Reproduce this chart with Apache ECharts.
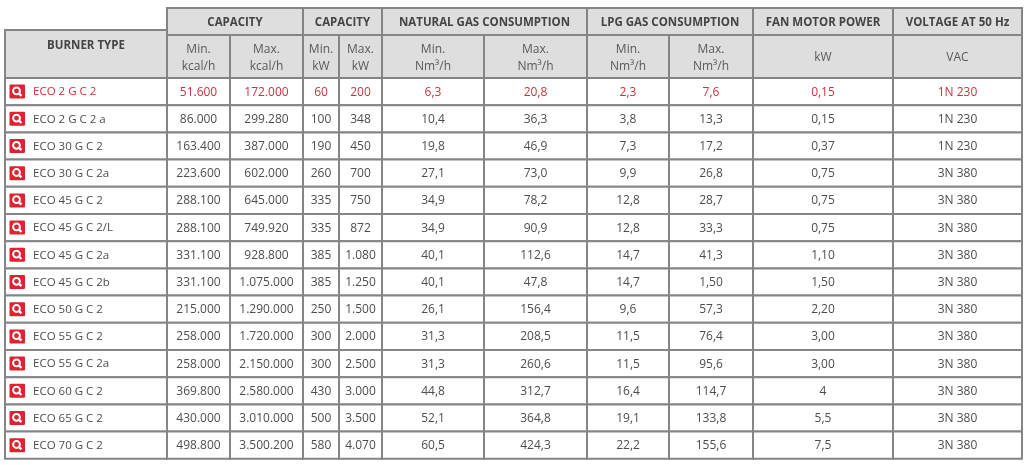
<!DOCTYPE html>
<html>
<head>
<meta charset="utf-8">
<script src="https://cdn.jsdelivr.net/npm/echarts@6/dist/echarts.min.js"></script>
<style>
    html, body { margin: 0; padding: 0; background: #fff; }
    #chart { width: 1024px; height: 465px; }
</style>
</head>
<body>
<div id="chart"></div>
<script>
// table content
const burnerTypes = ['ECO 2 G C 2', 'ECO 2 G C 2 a', 'ECO 30 G C 2', 'ECO 30 G C 2a', 'ECO 45 G C 2',
    'ECO 45 G C 2/L', 'ECO 45 G C 2a', 'ECO 45 G C 2b', 'ECO 50 G C 2', 'ECO 55 G C 2',
    'ECO 55 G C 2a', 'ECO 60 G C 2', 'ECO 65 G C 2', 'ECO 70 G C 2'];
const capMinKcal = ['51.600', '86.000', '163.400', '223.600', '288.100', '288.100', '331.100',
    '331.100', '215.000', '258.000', '258.000', '369.800', '430.000', '498.800'];
const capMaxKcal = ['172.000', '299.280', '387.000', '602.000', '645.000', '749.920', '928.800',
    '1.075.000', '1.290.000', '1.720.000', '2.150.000', '2.580.000', '3.010.000', '3.500.200'];
const capMinKw = ['60', '100', '190', '260', '335', '335', '385', '385', '250', '300', '300', '430', '500', '580'];
const capMaxKw = ['200', '348', '450', '700', '750', '872', '1.080', '1.250', '1.500', '2.000',
    '2.500', '3.000', '3.500', '4.070'];
const natGasMin = ['6,3', '10,4', '19,8', '27,1', '34,9', '34,9', '40,1', '40,1', '26,1', '31,3',
    '31,3', '44,8', '52,1', '60,5'];
const natGasMax = ['20,8', '36,3', '46,9', '73,0', '78,2', '90,9', '112,6', '47,8', '156,4', '208,5',
    '260,6', '312,7', '364,8', '424,3'];
const lpgMin = ['2,3', '3,8', '7,3', '9,9', '12,8', '12,8', '14,7', '14,7', '9,6', '11,5', '11,5',
    '16,4', '19,1', '22,2'];
const lpgMax = ['7,6', '13,3', '17,2', '26,8', '28,7', '33,3', '41,3', '1,50', '57,3', '76,4', '95,6',
    '114,7', '133,8', '155,6'];
const fanPower = ['0,15', '0,15', '0,37', '0,75', '0,75', '0,75', '1,10', '1,50', '2,20', '3,00',
    '3,00', '4', '5,5', '7,5'];
const voltage = ['1N 230', '1N 230', '1N 230', '3N 380', '3N 380', '3N 380', '3N 380', '3N 380',
    '3N 380', '3N 380', '3N 380', '3N 380', '3N 380', '3N 380'];

const groupHeaders = ['CAPACITY', 'CAPACITY', 'NATURAL GAS CONSUMPTION', 'LPG GAS CONSUMPTION',
    'FAN MOTOR POWER', 'VOLTAGE AT 50 Hz'];
const groupSpans = [2, 2, 2, 2, 1, 1];
const subHeaders = ['Min.\nkcal/h', 'Max.\nkcal/h', 'Min.\nkW', 'Max.\nkW', 'Min.\nNm³/h', 'Max.\nNm³/h',
    'Min.\nNm³/h', 'Max.\nNm³/h', 'kW', 'VAC'];
const highlightRow = 0;

// layout (pixel units on the hidden axes)
const colEdges = [5, 167, 230, 303, 339, 382, 484, 587, 669, 753, 893, 1022];
const groupTop = 8, subTop = 35, burnerHeadTop = 30, bodyTop = 78, rowHeight = 27.2;

const columns = [capMinKcal, capMaxKcal, capMinKw, capMaxKw, natGasMin, natGasMax,
    lpgMin, lpgMax, fanPower, voltage];

// build the list of cells: [x0, x1, y0, y1]
const cells = [];
const cellInfo = [];
cells.push([colEdges[0], colEdges[1], burnerHeadTop, bodyTop]);
cellInfo.push({ kind: 'burnerHead', text: 'BURNER TYPE' });
let c = 1;
groupHeaders.forEach((g, i) => {
    cells.push([colEdges[c], colEdges[c + groupSpans[i]], groupTop, subTop]);
    cellInfo.push({ kind: 'group', text: g });
    c += groupSpans[i];
});
subHeaders.forEach((s, i) => {
    cells.push([colEdges[i + 1], colEdges[i + 2], subTop, bodyTop]);
    cellInfo.push({ kind: 'sub', text: s });
});
burnerTypes.forEach((name, r) => {
    const y0 = bodyTop + r * rowHeight;
    cells.push([colEdges[0], colEdges[1], y0, y0 + rowHeight]);
    cellInfo.push({ kind: 'name', text: name, hl: r === highlightRow });
    columns.forEach((col, i) => {
        cells.push([colEdges[i + 1], colEdges[i + 2], y0, y0 + rowHeight]);
        cellInfo.push({ kind: 'cell', text: col[r], hl: r === highlightRow });
    });
});

const borderColor = '#858585';
const headFill = '#dedede';
const textColor = '#4d4d4d';
const redText = '#c9333d';
const iconRed = '#e3202f';
const fontFamily = '"Open Sans", "Noto Sans", sans-serif';

function renderCell (params, api) {
    const p0 = api.coord([api.value(0), api.value(2)]);
    const p1 = api.coord([api.value(1), api.value(3)]);
    const info = cellInfo[params.dataIndex];
    const w = p1[0] - p0[0];
    const h = p1[1] - p0[1];
    const isHead = info.kind === 'group' || info.kind === 'sub' || info.kind === 'burnerHead';
    const children = [{
        type: 'rect',
        shape: { x: p0[0], y: p0[1], width: w, height: h },
        style: { fill: isHead ? headFill : '#fff', stroke: borderColor, lineWidth: 2 }
    }];
    const cy = p0[1] + h / 2;
    let textStyle = {
        text: info.text,
        x: p0[0] + w / 2,
        y: cy + 0.5,
        align: 'center',
        verticalAlign: 'middle',
        fontFamily: fontFamily,
        fontSize: 12,
        fill: info.hl ? redText : textColor
    };
    if (info.kind === 'group') {
        textStyle.fontWeight = 'bold';
        textStyle.fontSize = 11.5;
        textStyle.fill = '#444';
        textStyle.y = cy + 1;
    } else if (info.kind === 'burnerHead') {
        textStyle.fontWeight = 'bold';
        textStyle.fontSize = 11.5;
        textStyle.fill = '#444';
        textStyle.y = p0[1] + 16;
    } else if (info.kind === 'sub') {
        textStyle.fill = '#595959';
        textStyle.lineHeight = 17;
        textStyle.y = cy + 1.5;
    } else if (info.kind === 'name') {
        textStyle.x = p0[0] + 28;
        textStyle.align = 'left';
        textStyle.fontSize = 11.5;
        // magnifier icon
        const ix = p0[0] + 4.5, iy = cy - 7;
        children.push({
            type: 'rect',
            shape: { x: ix, y: iy, width: 15.5, height: 14, r: 1 },
            style: { fill: iconRed }
        });
        children.push({
            type: 'circle',
            shape: { cx: ix + 7, cy: iy + 6.3, r: 3.4 },
            style: { fill: 'none', stroke: '#fff', lineWidth: 2 }
        });
        children.push({
            type: 'line',
            shape: { x1: ix + 9.4, y1: iy + 8.7, x2: ix + 11.9, y2: iy + 11.2 },
            style: { stroke: '#fff', lineWidth: 2.4 }
        });
    }
    children.push({ type: 'text', style: textStyle });
    return { type: 'group', children: children };
}

const chart = echarts.init(document.getElementById('chart'));
chart.setOption({
    animation: false,
    grid: { left: 0, right: 0, top: 0, bottom: 0 },
    xAxis: { type: 'value', min: 0, max: 1024, show: false },
    yAxis: { type: 'value', min: 0, max: 465, inverse: true, show: false },
    series: [{
        type: 'custom',
        renderItem: renderCell,
        encode: { x: [0, 1], y: [2, 3] },
        data: cells
    }]
});
</script>
</body>
</html>
